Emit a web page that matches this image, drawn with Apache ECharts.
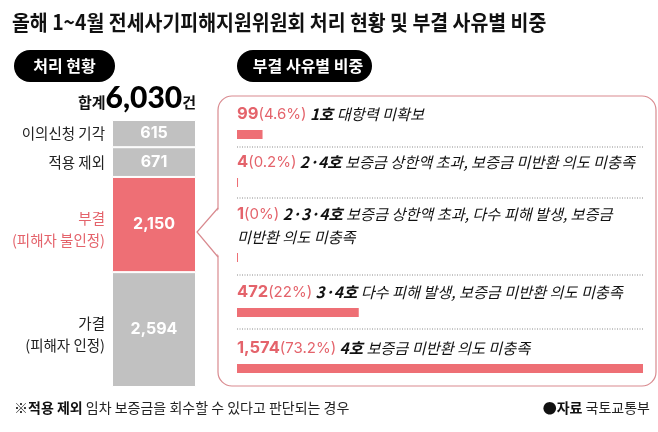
<!DOCTYPE html>
<html><head><meta charset="utf-8">
<script src="https://cdn.jsdelivr.net/npm/echarts@6/dist/echarts.min.js"></script>
<style>html,body{margin:0;padding:0;background:#fff}#c{width:658px;height:432px}</style>
</head><body><div id="c"></div>
<script>
// ---- data ----
const titleText = '올해 1~4월 전세사기피해지원위원회 처리 현황 및 부결 사유별 비중';
const leftHeader = '처리 현황';
const rightHeader = '부결 사유별 비중';
const leftNames = ['이의신청 기각', '적용 제외', '부결', '가결'];
const leftSubs = ['', '', '(피해자 불인정)', '(피해자 인정)'];
const leftValues = [615, 671, 2150, 2594];
const rightValues = [99, 4, 1, 472, 1574];
const rightPcts = ['4.6%', '0.2%', '0%', '22%', '73.2%'];
const rightCodes = ['1호', '2·4호', '2·3·4호', '3·4호', '4호'];
const rightDescs = [
  '대항력 미확보',
  '보증금 상한액 초과, 보증금 미반환 의도 미충족',
  '보증금 상한액 초과, 다수 피해 발생, 보증금\n미반환 의도 미충족',
  '다수 피해 발생, 보증금 미반환 의도 미충족',
  '보증금 미반환 의도 미충족'
];
const noteBold = '※적용 제외';
const noteText = '임차 보증금을 회수할 수 있다고 판단되는 경우';
const sourceBold = '●자료';
const sourceText = '국토교통부';

// ---- styles ----
const RED = '#ee6f75', RED_TXT = '#e4636b', GRAY = '#c1c1c1', BOX = '#d98a8f';
const KR = '"Noto Sans CJK KR", "Noto Sans", sans-serif';
const NUM = 'Inter, Roboto, sans-serif';
const leftColorStyle = [GRAY, GRAY, RED, GRAY];
const leftTextColor = ['#222', '#222', RED_TXT, '#222'];
const fmt = v => v.toLocaleString('en-US');
const total = leftValues.reduce((a, b) => a + b, 0);
const rightMax = Math.max(...rightValues);
const rowTops = [130, 178, 253, 308, 364];
const sepYs = [147, 198, 275, 329];

const chart = echarts.init(document.getElementById('c'));

const grid = [{ left: 112, width: 84, top: 120, height: 267 }];
const xAxis = [{ type: 'category', gridIndex: 0, data: [leftHeader], show: false }];
const yAxis = [{ type: 'value', gridIndex: 0, min: 0, max: total, inverse: true, show: false }];
const series = [];

leftValues.forEach((v, i) => {
  series.push({
    type: 'bar', xAxisIndex: 0, yAxisIndex: 0, stack: 'total', name: leftNames[i],
    data: [v], barWidth: 84, barGap: '-100%',
    itemStyle: { color: leftColorStyle[i], borderColor: '#fff', borderWidth: 1 },
    label: { show: true, position: 'inside', color: '#fff', fontSize: 16, fontWeight: 'bold',
      fontFamily: NUM, formatter: () => fmt(v) }
  });
});
leftValues.forEach((v, i) => {
  const c = leftTextColor[i];
  series.push({
    type: 'bar', xAxisIndex: 0, yAxisIndex: 0, stack: 'names', silent: true,
    data: [v], barWidth: 84, barGap: '-100%',
    itemStyle: { color: 'rgba(0,0,0,0)' },
    label: {
      show: true, position: 'left', distance: 7, align: 'right',
      offset: leftSubs[i] ? [0, 5] : [0, 0],
      formatter: () => leftSubs[i] ? `{n|${leftNames[i]}}\n{s|${leftSubs[i]}}` : `{n|${leftNames[i]}}`,
      rich: {
        n: { fontSize: 14.5, color: c, fontFamily: KR, lineHeight: 22, align: 'right' },
        s: { fontSize: 14.5, color: c, fontFamily: KR, lineHeight: 22, align: 'right' }
      }
    }
  });
});

rightValues.forEach((v, i) => {
  const gi = i + 1;
  grid.push({ left: 237, right: 15, top: rowTops[i], height: 9 });
  xAxis.push({ type: 'value', gridIndex: gi, min: 0, max: rightMax, show: false });
  yAxis.push({ type: 'category', gridIndex: gi, data: [rightCodes[i]], show: false });
  series.push({
    type: 'bar', xAxisIndex: gi, yAxisIndex: gi, data: [v], barWidth: 9, barMinHeight: 1,
    itemStyle: { color: RED },
    label: {
      show: true, position: [0, -4], align: 'left', verticalAlign: 'bottom',
      fontSize: 15.2, fontFamily: KR, fontStyle: 'italic', color: '#111', lineHeight: 23,
      formatter: () => `{num|${fmt(v)}}{pct|(${rightPcts[i]})} {code|${rightCodes[i]}} {desc|${rightDescs[i]}}`,
      rich: {
        num: { fontSize: 16.5, fontWeight: 'bold', fontStyle: 'normal', color: RED_TXT, fontFamily: NUM, lineHeight: 23 },
        pct: { fontSize: 15, fontStyle: 'normal', color: RED_TXT, fontFamily: NUM, lineHeight: 23 },
        code: { fontSize: 15.5, fontWeight: 'bold', fontStyle: 'italic', color: '#111', fontFamily: KR, lineHeight: 23 },
        desc: { fontSize: 15.2, fontStyle: 'italic', color: '#111', fontFamily: KR, lineHeight: 23 }
      }
    }
  });
});

const graphics = [
  { type: 'text', x: 12, y: 22, scaleX: 0.925,
    style: { text: titleText, fontSize: 21, fontWeight: 'bold', fontFamily: KR, fill: '#111',
      align: 'left', verticalAlign: 'middle' } },
  { type: 'rect', shape: { x: 14, y: 50, width: 101, height: 32, r: 16 }, style: { fill: '#000' } },
  { type: 'text', x: 64.5, y: 66,
    style: { text: leftHeader, fontSize: 16, fontWeight: 'bold', fontFamily: KR, fill: '#fff',
      align: 'center', verticalAlign: 'middle' } },
  { type: 'rect', shape: { x: 237, y: 50, width: 135, height: 32, r: 16 }, style: { fill: '#000' } },
  { type: 'text', x: 308, y: 66,
    style: { text: rightHeader, fontSize: 16, fontWeight: 'bold', fontFamily: KR, fill: '#fff',
      align: 'center', verticalAlign: 'middle' } },
  { type: 'rect', shape: { x: 218, y: 96, width: 438, height: 290, r: 14 },
    style: { fill: 'rgba(0,0,0,0)', stroke: BOX, lineWidth: 1.2 } },
  { type: 'polygon', shape: { points: [[220, 208], [197, 232], [220, 257]] }, style: { fill: '#fff' } },
  { type: 'polyline', shape: { points: [[218, 208], [197, 232], [218, 257]] },
    style: { fill: null, stroke: BOX, lineWidth: 1.2 } },
  { type: 'text', x: 14, y: 408,
    style: { text: `{b|${noteBold}} ${noteText}`, fontSize: 14, fontFamily: KR, fill: '#222',
      align: 'left', verticalAlign: 'middle',
      rich: { b: { fontSize: 14, fontWeight: 'bold', fontFamily: KR, fill: '#111' } } } },
  { type: 'text', x: 650, y: 408,
    style: { text: `{b|${sourceBold}} ${sourceText}`, fontSize: 14, fontFamily: KR, fill: '#222',
      align: 'right', verticalAlign: 'middle',
      rich: { b: { fontSize: 14, fontWeight: 'bold', fontFamily: KR, fill: '#111' } } } }
];
sepYs.forEach(y => graphics.push({
  type: 'line', shape: { x1: 237, y1: y, x2: 643, y2: y },
  style: { stroke: '#8a8a8a', lineWidth: 1, lineDash: [1, 1.5] }
}));

chart.setOption({
  animation: false,
  backgroundColor: '#fff',
  title: {
    text: `{a|합계}{b|${fmt(total)}}{c|건}`, right: 462, top: 83, padding: 0,
    textStyle: {
      rich: {
        a: { fontSize: 15, fontFamily: KR, color: '#111', verticalAlign: 'bottom', padding: [0, 0, 3, 0] },
        b: { fontSize: 30, fontWeight: 900, fontFamily: 'Lato, Inter, sans-serif', color: '#000', verticalAlign: 'bottom' },
        c: { fontSize: 15, fontFamily: KR, color: '#111', verticalAlign: 'bottom', padding: [0, 0, 3, 0] }
      }
    }
  },
  grid, xAxis, yAxis, series,
  graphic: graphics
});
</script>
</body></html>
